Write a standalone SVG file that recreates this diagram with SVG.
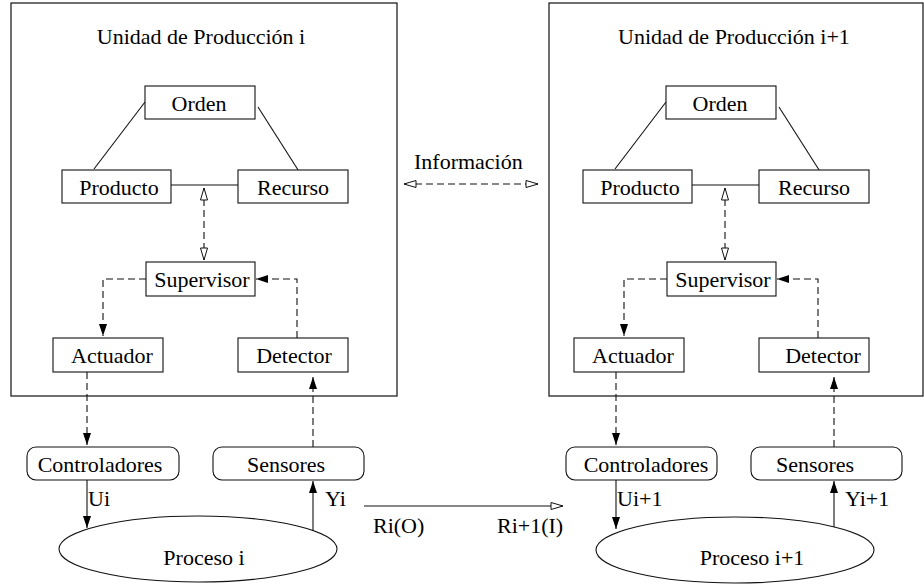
<svg xmlns="http://www.w3.org/2000/svg" width="924" height="585" viewBox="0 0 924 585" font-family="Liberation Serif, serif">
  <style>
    .frame { fill: none; stroke: #222; stroke-width: 1.3; }
    .box { fill: #fff; stroke: #111; stroke-width: 1.1; }
    text { font-family: 'Liberation Serif', 'Times New Roman', Times, serif; font-size: 22px; fill: #000; }
    .txt { text-anchor: middle; }
    .solid { fill: none; stroke: #111; stroke-width: 1.1; }
    .dash { fill: none; stroke: #111; stroke-width: 1.1; stroke-dasharray: 7 4; }
  </style>
  <defs>
    <marker id="fill-arrow" markerUnits="userSpaceOnUse" markerWidth="14" markerHeight="10" refX="12" refY="4" orient="auto-start-reverse">
      <path d="M0,0 L12,4 L0,8 z" fill="#000" stroke="none"/>
    </marker>
    <marker id="open-arrow" markerUnits="userSpaceOnUse" markerWidth="16" markerHeight="10" refX="13" refY="4" orient="auto-start-reverse">
      <path d="M1,0.5 L13,4 L1,7.5 z" fill="#fff" stroke="#111" stroke-width="1"/>
    </marker>
  </defs>

  <!-- production unit frames -->
  <g id="unit-i">
    <rect class="frame" x="11" y="3" width="386" height="393"/>
    <text class="txt" x="201" y="44">Unidad de Producción i</text>
  </g>
  <g id="unit-i1">
    <rect class="frame" x="549" y="3" width="374" height="393"/>
    <text class="txt" x="734" y="44">Unidad de Producción i+1</text>
  </g>

  <!-- connectors -->
  <g id="connectors">
    <!-- unit i -->
    <line class="solid" x1="145" y1="102" x2="94" y2="169"/>
    <line class="solid" x1="258" y1="107" x2="300" y2="173"/>
    <line class="solid" x1="171" y1="185" x2="238" y2="185"/>
    <line class="dash" x1="204" y1="188" x2="204" y2="260" marker-start="url(#open-arrow)" marker-end="url(#open-arrow)"/>
    <path class="dash" d="M146,279 H103 V336" marker-end="url(#fill-arrow)"/>
    <path class="dash" d="M297,338 V279 H256" marker-end="url(#fill-arrow)"/>
    <line class="dash" x1="87" y1="372" x2="87" y2="445" marker-end="url(#fill-arrow)"/>
    <line class="dash" x1="313" y1="447" x2="313" y2="377" marker-end="url(#fill-arrow)"/>
    <line class="solid" x1="87" y1="480" x2="87" y2="528" marker-end="url(#fill-arrow)"/>
    <line class="solid" x1="313" y1="533" x2="313" y2="481" marker-end="url(#fill-arrow)"/>

    <!-- unit i+1 -->
    <line class="solid" x1="666" y1="102" x2="615" y2="169"/>
    <line class="solid" x1="779" y1="107" x2="821" y2="173"/>
    <line class="solid" x1="692" y1="185" x2="759" y2="185"/>
    <line class="dash" x1="725" y1="188" x2="725" y2="260" marker-start="url(#open-arrow)" marker-end="url(#open-arrow)"/>
    <path class="dash" d="M667,279 H624 V336" marker-end="url(#fill-arrow)"/>
    <path class="dash" d="M818,338 V279 H777" marker-end="url(#fill-arrow)"/>
    <line class="dash" x1="616" y1="372" x2="616" y2="445" marker-end="url(#fill-arrow)"/>
    <line class="dash" x1="834" y1="447" x2="834" y2="377" marker-end="url(#fill-arrow)"/>
    <line class="solid" x1="616" y1="480" x2="616" y2="529" marker-end="url(#fill-arrow)"/>
    <line class="solid" x1="834" y1="532" x2="834" y2="481" marker-end="url(#fill-arrow)"/>

    <!-- between units -->
    <line class="dash" x1="404" y1="184" x2="538" y2="184" marker-start="url(#open-arrow)" marker-end="url(#open-arrow)"/>
    <line class="solid" x1="364" y1="506" x2="563" y2="506" marker-end="url(#open-arrow)"/>
  </g>

  <!-- connector labels -->
  <g id="labels">
    <text x="414" y="169">Información</text>
    <text x="373" y="533">Ri(O)</text>
    <text x="497" y="533">Ri+1(I)</text>
    <text x="88" y="506">Ui</text>
    <text x="325" y="506">Yi</text>
    <text x="617" y="506">Ui+1</text>
    <text x="845" y="506">Yi+1</text>
  </g>

  <!-- nodes of unit i -->
  <g id="orden-i"><rect class="box" x="145" y="86" width="110" height="33"/><text class="txt" x="199" y="111">Orden</text></g>
  <g id="producto-i"><rect class="box" x="62" y="170" width="109" height="33"/><text class="txt" x="119" y="195">Producto</text></g>
  <g id="recurso-i"><rect class="box" x="238" y="170" width="110" height="33"/><text class="txt" x="293" y="195">Recurso</text></g>
  <g id="supervisor-i"><rect class="box" x="146" y="262" width="109" height="34"/><text class="txt" x="202" y="287">Supervisor</text></g>
  <g id="actuador-i"><rect class="box" x="53" y="338" width="110" height="34"/><text class="txt" x="112" y="363">Actuador</text></g>
  <g id="detector-i"><rect class="box" x="238" y="338" width="110" height="34"/><text class="txt" x="294" y="363">Detector</text></g>
  <g id="controladores-i"><rect class="box" x="27" y="447" width="152" height="33" rx="9"/><text class="txt" x="100" y="472">Controladores</text></g>
  <g id="sensores-i"><rect class="box" x="213" y="447" width="151" height="33" rx="9"/><text class="txt" x="286" y="472">Sensores</text></g>
  <g id="proceso-i"><ellipse class="box" cx="198" cy="549" rx="139" ry="33"/><text class="txt" x="204" y="565">Proceso i</text></g>

  <!-- nodes of unit i+1 -->
  <g id="orden-i1"><rect class="box" x="666" y="86" width="110" height="33"/><text class="txt" x="720" y="111">Orden</text></g>
  <g id="producto-i1"><rect class="box" x="583" y="170" width="109" height="33"/><text class="txt" x="640" y="195">Producto</text></g>
  <g id="recurso-i1"><rect class="box" x="759" y="170" width="110" height="33"/><text class="txt" x="814" y="195">Recurso</text></g>
  <g id="supervisor-i1"><rect class="box" x="667" y="262" width="109" height="34"/><text class="txt" x="723" y="287">Supervisor</text></g>
  <g id="actuador-i1"><rect class="box" x="574" y="338" width="110" height="34"/><text class="txt" x="633" y="363">Actuador</text></g>
  <g id="detector-i1"><rect class="box" x="759" y="338" width="110" height="34"/><text class="txt" x="823" y="363">Detector</text></g>
  <g id="controladores-i1"><rect class="box" x="566" y="447" width="151" height="33" rx="9"/><text class="txt" x="646" y="472">Controladores</text></g>
  <g id="sensores-i1"><rect class="box" x="751" y="447" width="151" height="33" rx="9"/><text class="txt" x="815" y="472">Sensores</text></g>
  <g id="proceso-i1"><ellipse class="box" cx="735" cy="550" rx="139" ry="33"/><text class="txt" x="752" y="565">Proceso i+1</text></g>
</svg>
